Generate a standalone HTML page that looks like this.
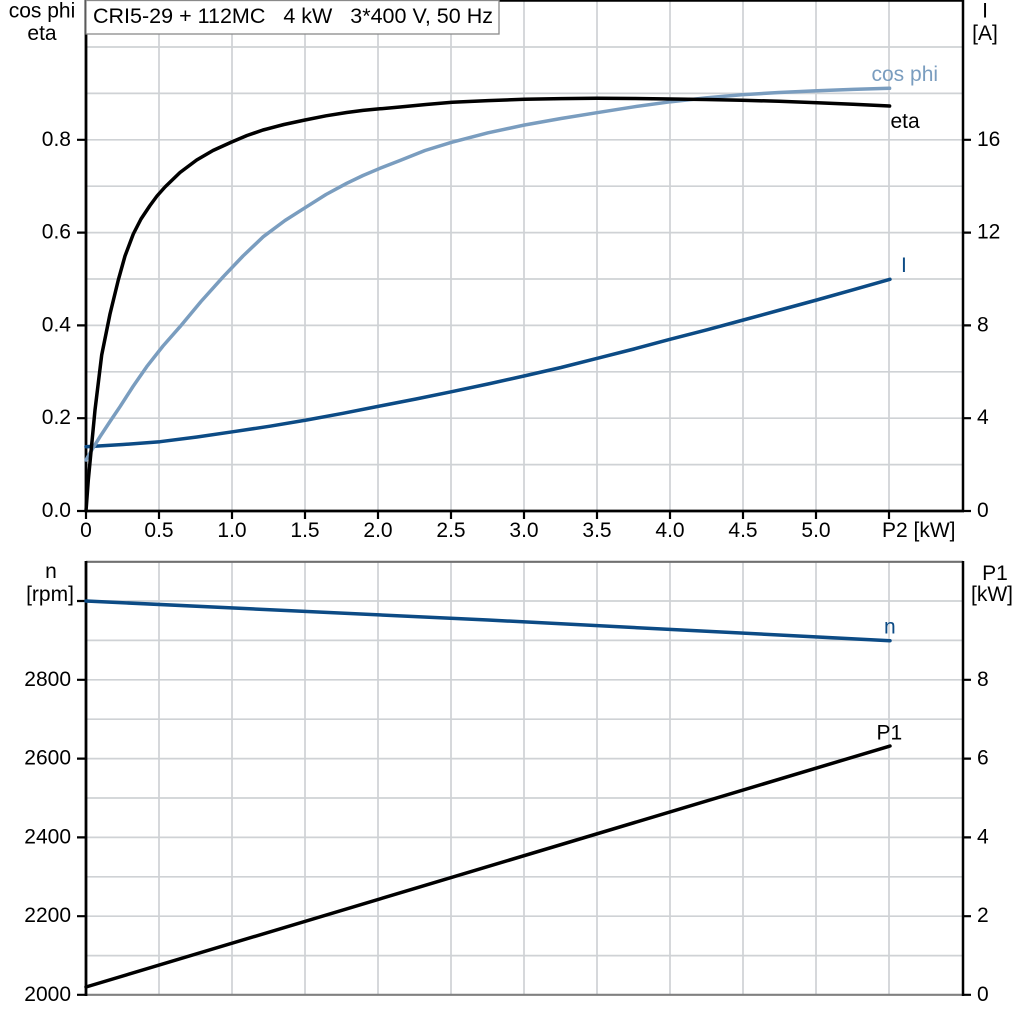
<!DOCTYPE html>
<html><head><meta charset="utf-8"><style>
html,body{margin:0;padding:0;background:#fff;}
svg{display:block;font-family:"Liberation Sans",Arial,sans-serif;}
</style></head><body>
<svg width="1024" height="1024" viewBox="0 0 1024 1024" xmlns="http://www.w3.org/2000/svg">
<rect width="1024" height="1024" fill="#fff"/>
<!-- TOP CHART GRID -->
<g stroke="#cfd2d5" stroke-width="1.7" fill="none">
<path d="M159,0V511M232,0V511M305,0V511M378,0V511M451,0V511M524,0V511M597,0V511M670,0V511M743,0V511M816,0V511M889,0V511"/>
<path d="M86,464.6H963M86,418.2H963M86,371.8H963M86,325.4H963M86,279H963M86,232.6H963M86,186.2H963M86,139.8H963M86,93.4H963M86,47H963"/>
</g>
<!-- top axes -->
<g stroke="#000" fill="none">
<path d="M86,0.8H963" stroke-width="1.8"/>
<path d="M86,0V512" stroke-width="2.8"/>
<path d="M963,0V512" stroke-width="2.5"/>
<path d="M85,511H964" stroke-width="2.8"/>
<path d="M77,511H86M77,418.2H86M77,325.4H86M77,232.6H86M77,139.8H86" stroke-width="2.2"/>
<path d="M963,511H971M963,418.2H971M963,325.4H971M963,232.6H971M963,139.8H971" stroke-width="2.2"/>
<path d="M86,511V519M159,511V519M232,511V519M305,511V519M378,511V519M451,511V519M524,511V519M597,511V519M670,511V519M743,511V519M816,511V519M889,511V519" stroke-width="2.2"/>
</g>
<!-- title box -->
<rect x="86" y="0.5" width="413" height="33.5" fill="#fff" stroke="#8a8a8a" stroke-width="1.3"/>
<text x="93" y="23" font-size="21.5" fill="#000" textLength="400" lengthAdjust="spacing" xml:space="preserve">CRI5-29 + 112MC   4 kW   3*400 V, 50 Hz</text>
<!-- curves top -->
<polyline fill="none" stroke="#0c4b85" stroke-width="3.5" stroke-linejoin="round" stroke-linecap="round" points="86,446.7 123,444.5 160,441.7 197,437 233.3,431.7 270,426.2 306.7,420 343,413.3 380,406 416,399 451.7,391.7 488,384 524,376 561,367.5 597.3,358.3 634,349 670,339.3 707,329.8 743.3,320 780,310 816.7,300 853,289.8 890,279.3"/>
<polyline fill="none" stroke="#7a9dbf" stroke-width="3.5" stroke-linejoin="round" stroke-linecap="round" points="86,460 93,448 100,436.7 110,421.5 120,406.7 133,386.5 146.7,366.7 163,346 180,326.7 201,301.5 223.3,276.7 243,256 263.3,236.7 285,220.5 306.7,206.7 326,194.5 346.7,183.3 363,175.5 380,168.3 400,160.5 425,150.5 451.6,142.3 488,132.8 524.6,125 561,118.5 596.9,112.7 634,106.8 671,101.7 706,97.9 741.6,94.7 779,92.5 817.3,90.7 853,89.4 889.6,88.3"/>
<polyline fill="none" stroke="#000" stroke-width="3.5" stroke-linejoin="round" stroke-linecap="round" points="86,511 88.3,480 95,410 101.7,355 110,314 118.3,280 125,256 133.3,234 141,219 150,205.5 157,196 165,187 180,172.5 196.7,160 213,150.5 231.7,142 247,135.5 263,130 284,124.5 305,120 326,115.8 346.7,112.5 363,110.4 380,108.8 400,107 426,104.5 452.3,102.3 488,100.6 524.6,99.3 561,98.6 596.9,98.3 634,98.5 671,99 706,99.5 741.6,100.2 779,101.3 817.3,102.7 853,104.3 889.6,106"/>
<!-- top labels -->
<g font-size="21" fill="#000">
<text x="42" y="17.5" text-anchor="middle">cos phi</text>
<text x="42" y="40" text-anchor="middle">eta</text>
<text x="985" y="17.5" text-anchor="middle">I</text>
<text x="985" y="40" text-anchor="middle">[A]</text>
<g text-anchor="end">
<text x="71" y="517">0.0</text>
<text x="71" y="424.2">0.2</text>
<text x="71" y="331.4">0.4</text>
<text x="71" y="238.6">0.6</text>
<text x="71" y="145.8">0.8</text>
</g>
<g text-anchor="start">
<text x="977" y="517">0</text>
<text x="977" y="424.2">4</text>
<text x="977" y="331.4">8</text>
<text x="977" y="238.6">12</text>
<text x="977" y="145.8">16</text>
</g>
<g text-anchor="middle">
<text x="86" y="537">0</text>
<text x="159" y="537">0.5</text>
<text x="232" y="537">1.0</text>
<text x="305" y="537">1.5</text>
<text x="378" y="537">2.0</text>
<text x="451" y="537">2.5</text>
<text x="524" y="537">3.0</text>
<text x="597" y="537">3.5</text>
<text x="670" y="537">4.0</text>
<text x="743" y="537">4.5</text>
<text x="816" y="537">5.0</text>
</g>
<text x="882" y="537">P2 [kW]</text>
<text x="871.5" y="81" fill="#7a9dbf">cos phi</text>
<text x="890.5" y="128">eta</text>
<text x="901" y="272" fill="#0c4b85">I</text>
</g>

<!-- BOTTOM CHART GRID -->
<g stroke="#cfd2d5" stroke-width="1.7" fill="none">
<path d="M159,562V995M232,562V995M305,562V995M378,562V995M451,562V995M524,562V995M597,562V995M670,562V995M743,562V995M816,562V995M889,562V995"/>
<path d="M86,955.6H963M86,916.2H963M86,876.8H963M86,837.4H963M86,798H963M86,758.6H963M86,719.2H963M86,679.8H963M86,640.4H963M86,601H963"/>
</g>
<g fill="none">
<path d="M86,561.8H963" stroke="#707070" stroke-width="2.2"/>
<path d="M86,994.8H963" stroke="#808080" stroke-width="2.2"/>
<path d="M86,561V996" stroke="#000" stroke-width="2.8"/>
<path d="M963,561V996" stroke="#000" stroke-width="2.5"/>
<path d="M77,994.8H86M77,916.2H86M77,837.4H86M77,758.6H86M77,679.8H86M77,601H86" stroke="#000" stroke-width="2.2"/>
<path d="M963,994.8H971M963,916.2H971M963,837.4H971M963,758.6H971M963,679.8H971" stroke="#000" stroke-width="2.2"/>
</g>
<polyline fill="none" stroke="#0c4b85" stroke-width="3.5" stroke-linecap="round" points="86,601 488,620 890,640.7"/>
<polyline fill="none" stroke="#000" stroke-width="3.5" stroke-linecap="round" points="86,987 890,746"/>
<g font-size="21" fill="#000">
<text x="51" y="578" text-anchor="middle">n</text>
<text x="50" y="601" text-anchor="middle">[rpm]</text>
<text x="995" y="580" text-anchor="middle">P1</text>
<text x="992" y="601" text-anchor="middle">[kW]</text>
<g text-anchor="end">
<text x="71" y="1001">2000</text>
<text x="71" y="922.2">2200</text>
<text x="71" y="843.4">2400</text>
<text x="71" y="764.6">2600</text>
<text x="71" y="685.8">2800</text>
</g>
<g text-anchor="start">
<text x="977" y="1001">0</text>
<text x="977" y="922.2">2</text>
<text x="977" y="843.4">4</text>
<text x="977" y="764.6">6</text>
<text x="977" y="685.8">8</text>
</g>
<text x="884" y="633.5" fill="#0c4b85">n</text>
<text x="876.5" y="739.5">P1</text>
</g>
</svg>
</body></html>
